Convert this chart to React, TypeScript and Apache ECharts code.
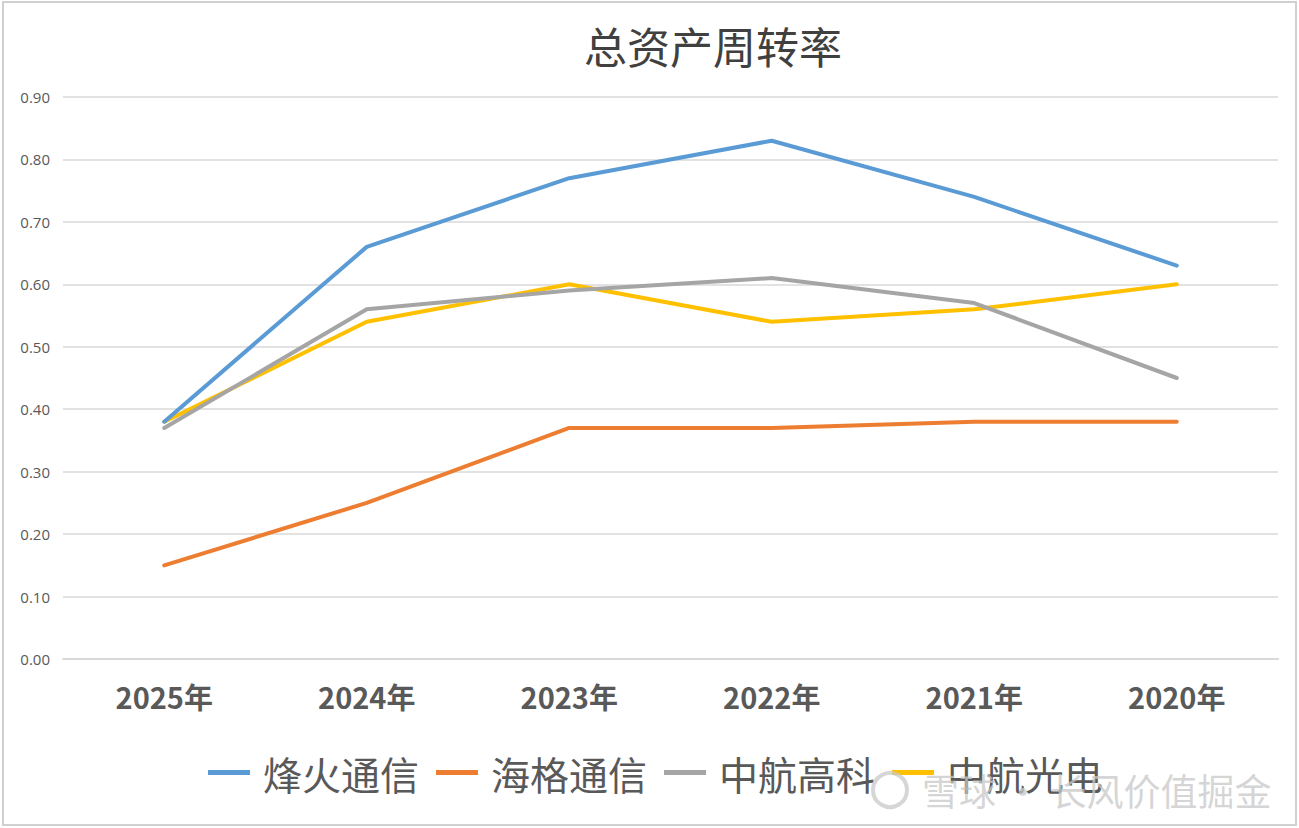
import React, { useEffect, useRef } from "react";
import * as echarts from "echarts";

const categories = ["2025年", "2024年", "2023年", "2022年", "2021年", "2020年"];
const fiberhome = [0.38, 0.66, 0.77, 0.83, 0.74, 0.63];
const haige = [0.15, 0.25, 0.37, 0.37, 0.38, 0.38];
const avicHitech = [0.37, 0.56, 0.59, 0.61, 0.57, 0.45];
const avicJonhon = [0.38, 0.54, 0.6, 0.54, 0.56, 0.6];
const seriesNames = ["烽火通信", "海格通信", "中航高科", "中航光电"];
const colors = ["#5B9BD5", "#ED7D31", "#A5A5A5", "#FFC000"];

export default function App() {
  const ref = useRef<HTMLDivElement>(null);
  useEffect(() => {
    if (!ref.current) return;
    const chart = echarts.init(ref.current, null, { renderer: "svg" });
    const data = [fiberhome, haige, avicHitech, avicJonhon];
    chart.setOption({
      animation: false,
      backgroundColor: "#ffffff",
      title: {
        text: "总资产周转率",
        left: 708,
        textAlign: "center",
        top: 18,
        textStyle: {
          fontFamily: "Noto Sans CJK SC",
          fontSize: 43,
          fontWeight: "normal",
          color: "#404040",
        },
      },
      legend: {
        left: 203,
        top: 748,
        icon: "rect",
        itemWidth: 42,
        itemHeight: 5,
        itemGap: 17,
        textStyle: {
          fontFamily: "Noto Sans CJK SC",
          fontSize: 39,
          color: "#595959",
          padding: [0, 0, 0, 8],
        },
        data: seriesNames,
      },
      grid: { left: 63, right: 21, top: 97, bottom: 169, containLabel: false },
      xAxis: {
        type: "category",
        data: categories,
        boundaryGap: true,
        axisLine: { show: true, lineStyle: { color: "#D9D9D9", width: 2 } },
        axisTick: { show: false },
        axisLabel: {
          margin: 22,
          fontFamily: "Noto Sans CJK SC",
          fontSize: 29,
          fontWeight: "bold",
          color: "#595959",
        },
      },
      yAxis: {
        type: "value",
        min: 0,
        max: 0.9,
        interval: 0.1,
        axisLine: { show: false },
        axisTick: { show: false },
        axisLabel: {
          margin: 13,
          fontFamily: "Open Sans",
          fontSize: 15,
          color: "#595959",
          formatter: (v: number) => v.toFixed(2),
        },
        splitLine: { lineStyle: { color: "#D9D9D9", width: 1.5 } },
      },
      series: seriesNames.map((name, i) => ({
        name,
        type: "line",
        data: data[i],
        symbol: "none",
        lineStyle: { width: 4, color: colors[i], cap: "round" },
        itemStyle: { color: colors[i] },
        z: 10 - i,
      })),
      graphic: [
        {
          type: "rect",
          shape: { x: 3, y: 2, width: 1293, height: 823 },
          style: { fill: "none", stroke: "#D0D0D0", lineWidth: 2 },
          silent: true,
        },
        {
          type: "circle",
          shape: { cx: 890, cy: 790, r: 17 },
          style: { fill: "none", stroke: "rgba(200,200,200,0.75)", lineWidth: 4 },
          z: 100,
        },
        {
          type: "text",
          x: 922,
          y: 790,
          style: {
            text: "雪球 · 长风价值掘金",
            fontFamily: "Noto Sans CJK SC",
            fontSize: 37,
            fill: "rgba(200,200,200,0.75)",
            textVerticalAlign: "middle",
            verticalAlign: "middle",
          },
          z: 100,
        },
      ],
    });
    return () => chart.dispose();
  }, []);
  return (
    <div
      ref={ref}
      style={{ position: "fixed", left: 0, top: 0, width: 1299, height: 828 }}
    />
  );
}
